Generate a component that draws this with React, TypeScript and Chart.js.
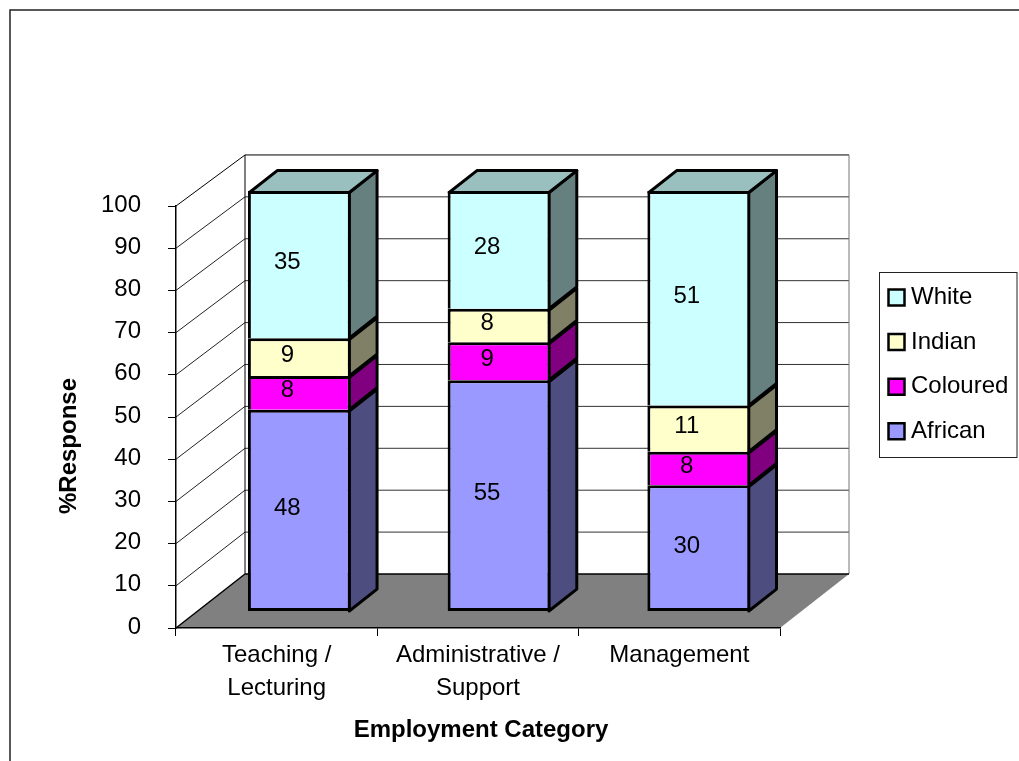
import React, { useEffect, useRef } from "react";
import { Chart, registerables } from "chart.js";

Chart.register(...registerables);

const categories = [["Teaching /", "Lecturing"], ["Administrative /", "Support"], ["Management"]];
const african = [48, 55, 30];
const coloured = [8, 9, 8];
const indian = [9, 8, 11];
const white = [35, 28, 51];
const seriesNames = ["African", "Coloured", "Indian", "White"];
const frontColours = ["#9999FF", "#FF00FF", "#FFFFCC", "#CCFFFF"];
const sideColours = ["#4D4D80", "#800080", "#808066", "#668080"];
const topColour = "#99BFBF";
const valueTicks = { min: 0, max: 100, step: 10 };

const FONT = "'Liberation Sans', Arial, sans-serif";
const FONT_SIZE = 24;
const OUTLINE = 3;

// Oblique depth of the box the columns stand in; the back wall is slightly foreshortened.
const WALL_DX = 69;
const WALL_DY = 54;
const WALL_SCALE = 0.993;
// Depth of one column and the receding plane its front face sits on.
const BAR_DX = 28;
const BAR_DY = 22;
const PLANE = { sx: 0.992, sy: 0.9965, tx: 24.9, ty: -14.3 };

const project = (x: number, y: number) => [PLANE.sx * x + PLANE.tx, PLANE.sy * y + PLANE.ty];

function poly(ctx: CanvasRenderingContext2D, pts: number[][], fill: string | null, stroke: string | null, lw = 1) {
  ctx.beginPath();
  pts.forEach(([x, y], i) => (i ? ctx.lineTo(x, y) : ctx.moveTo(x, y)));
  ctx.closePath();
  if (fill) {
    ctx.fillStyle = fill;
    ctx.fill();
  }
  if (stroke) {
    ctx.strokeStyle = stroke;
    ctx.lineWidth = lw;
    ctx.lineJoin = "round";
    ctx.stroke();
  }
}

function line(ctx: CanvasRenderingContext2D, x1: number, y1: number, x2: number, y2: number, colour: string, lw = 1) {
  ctx.beginPath();
  ctx.moveTo(x1, y1);
  ctx.lineTo(x2, y2);
  ctx.strokeStyle = colour;
  ctx.lineWidth = lw;
  ctx.stroke();
}

// Nudges an axis title away from the default centred position.
function shiftTitle(chart: any, scale: any, dx: number, dy: number) {
  if (scale.__titleShifted) return;
  const drawTitle = scale.drawTitle;
  scale.drawTitle = function (...args: any[]) {
    chart.ctx.save();
    chart.ctx.translate(dx, dy);
    drawTitle.apply(this, args);
    chart.ctx.restore();
  };
  scale.__titleShifted = true;
}

const column3d = {
  id: "column3d",
  afterLayout(chart: any) {
    // The legend lives outside the plot, in its own frame on the right.
    const lg = chart.legend;
    lg.left = 873.4;
    lg.top = 264.9;
    lg.right = 1017;
    lg.bottom = 761;
    shiftTitle(chart, chart.scales.y, 0, 29);
    shiftTitle(chart, chart.scales.x, 3, 1);
  },
  beforeDraw(chart: any) {
    const { ctx, chartArea: a, scales } = chart;
    const y = scales.y;
    const backY = (py: number) => a.bottom - WALL_DY - (a.bottom - py) * WALL_SCALE;
    ctx.save();
    // Outer chart frame, running past the page on the right and bottom.
    ctx.strokeStyle = "#222";
    ctx.lineWidth = 1.5;
    ctx.strokeRect(10, 10, 1300, 1300);

    // Legend frame
    ctx.strokeStyle = "#222";
    ctx.lineWidth = 1;
    ctx.strokeRect(879.5, 272.5, 137.5, 185);

    const bx = a.left + WALL_DX;
    const bxr = a.right + WALL_DX;
    const wallTop = backY(a.top);
    const wallFoot = a.bottom - WALL_DY;
    // Back wall
    poly(ctx, [[bx, wallTop], [bxr, wallTop], [bxr, wallFoot], [bx, wallFoot]], "#fff", null);
    // Gridlines across the side wall and the back wall
    for (let v = valueTicks.min + valueTicks.step; v < valueTicks.max; v += valueTicks.step) {
      const py = y.getPixelForValue(v);
      line(ctx, a.left, py, bx, backY(py), "#222");
      line(ctx, bx, backY(py), bxr, backY(py), "#333");
    }
    line(ctx, a.left, a.top, bx, wallTop, "#000");
    line(ctx, bx, wallTop, bxr, wallTop, "#000");
    line(ctx, bx, wallTop, bx, wallFoot, "#000");
    line(ctx, bxr, wallTop, bxr, wallFoot, "#777");
    // Floor
    poly(ctx, [[a.left, a.bottom], [a.right, a.bottom], [bxr, wallFoot], [bx, wallFoot]], "#808080", null);
    line(ctx, a.left, a.bottom, bx, wallFoot, "#000", 1.5);
    line(ctx, bx, wallFoot, bxr, wallFoot, "#000", 1.5);
    ctx.restore();
  },
  beforeDatasetsDraw(chart: any) {
    const { ctx } = chart;
    ctx.save();
    ctx.transform(PLANE.sx, 0, 0, PLANE.sy, PLANE.tx, PLANE.ty);
    const top = chart.data.datasets.length - 1;
    chart.data.datasets.forEach((_: any, di: number) => {
      chart.getDatasetMeta(di).data.forEach((bar: any) => {
        const r = bar.x + bar.width / 2 - OUTLINE / 2;
        const l = bar.x - bar.width / 2 + OUTLINE / 2;
        const t = bar.y + OUTLINE / 2;
        poly(ctx, [[r, t], [r + BAR_DX, t - BAR_DY], [r + BAR_DX, bar.base - BAR_DY], [r, bar.base]], sideColours[di], "#000", OUTLINE);
        if (di === top) {
          poly(ctx, [[l, t], [l + BAR_DX, t - BAR_DY], [r + BAR_DX, t - BAR_DY], [r, t]], topColour, "#000", OUTLINE);
        }
      });
    });
  },
  afterDatasetsDraw(chart: any) {
    const { ctx } = chart;
    ctx.restore();
    // Value labels, set slightly left of each segment's centre.
    ctx.save();
    ctx.fillStyle = "#000";
    ctx.font = `${FONT_SIZE}px ${FONT}`;
    ctx.textAlign = "center";
    ctx.textBaseline = "middle";
    chart.data.datasets.forEach((ds: any, di: number) => {
      chart.getDatasetMeta(di).data.forEach((bar: any, i: number) => {
        const [px, py] = project(bar.x, (bar.y + bar.base) / 2);
        ctx.fillText(String(ds.data[i]), px - 12, py - 2);
      });
    });
    ctx.restore();
  },
};

export default function App() {
  const ref = useRef<HTMLCanvasElement>(null);

  useEffect(() => {
    const values = [african, coloured, indian, white];
    const chart = new Chart(ref.current!, {
      type: "bar",
      data: {
        labels: categories as any,
        datasets: seriesNames.map((name, i) => ({
          label: name,
          data: values[i],
          backgroundColor: frontColours[i],
          borderColor: "#000",
          borderWidth: i === 0 ? OUTLINE : { top: OUTLINE, left: OUTLINE, right: OUTLINE, bottom: 0 },
          borderSkipped: false,
          categoryPercentage: 1,
          barPercentage: 0.515,
        })),
      },
      plugins: [column3d as any],
      options: {
        animation: false,
        responsive: false,
        layout: { padding: { top: 206, right: 239, left: 0, bottom: 0 } },
        plugins: {
          tooltip: { enabled: false },
          legend: {
            display: true,
            position: "chartArea" as any,
            align: "start",
            reverse: true,
            labels: {
              usePointStyle: true,
              pointStyle: "rect",
              boxWidth: 5,
              boxHeight: 16,
              padding: 20.6,
              color: "#000",
              font: { family: FONT, size: FONT_SIZE, lineHeight: 1 },
              generateLabels: (c: any) =>
                Chart.defaults.plugins.legend.labels.generateLabels(c).map((item: any) => ({ ...item, lineWidth: 2.5 })),
            },
          },
        },
        scales: {
          x: {
            stacked: true,
            afterFit: (s: any) => {
              s.height = 133;
            },
            grid: { drawOnChartArea: false, drawTicks: true, tickLength: 8, color: "#000", lineWidth: 1 },
            border: { display: true, color: "#000", width: 1.5 },
            ticks: {
              color: "#000",
              autoSkip: false,
              maxRotation: 0,
              minRotation: 0,
              padding: 3,
              font: { family: FONT, size: FONT_SIZE, lineHeight: 1.375 },
            },
            title: {
              display: true,
              text: "Employment Category",
              color: "#000",
              font: { family: FONT, size: FONT_SIZE, weight: "bold", lineHeight: 1.2 },
              padding: { top: 0, bottom: 17 },
            },
          },
          y: {
            stacked: true,
            min: valueTicks.min,
            max: valueTicks.max,
            afterFit: (s: any) => {
              s.width = 176;
            },
            grid: { drawOnChartArea: false, drawTicks: true, tickLength: 8, color: "#000", lineWidth: 1 },
            border: { display: true, color: "#000", width: 1.5 },
            ticks: {
              color: "#000",
              stepSize: valueTicks.step,
              padding: 27,
              labelOffset: -1,
              font: { family: FONT, size: FONT_SIZE },
            },
            title: {
              display: true,
              text: "%Response",
              color: "#000",
              font: { family: FONT, size: FONT_SIZE, weight: "bold", lineHeight: 1.2 },
              padding: { top: 55, bottom: 0 },
            },
          },
        },
      },
    } as any);
    return () => chart.destroy();
  }, []);

  return (
    <canvas
      ref={ref}
      width={1019}
      height={761}
      style={{ position: "absolute", left: 0, top: 0, display: "block" }}
    />
  );
}
